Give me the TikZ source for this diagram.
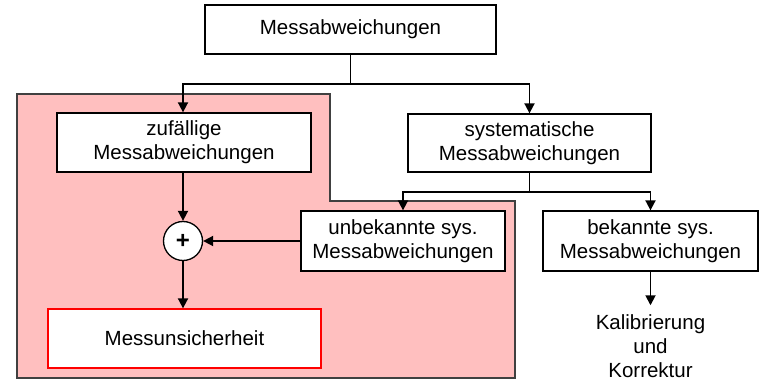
\documentclass[tikz,border=0pt]{standalone}
\usepackage{fontspec}
\setmainfont{Liberation Sans}
\usetikzlibrary{arrows.meta}
\definecolor{pinkfill}{HTML}{FFBFBF}
\definecolor{regionline}{HTML}{404040}
\begin{document}
\begin{tikzpicture}[x=1pt,y=-1pt,
  box/.style={draw=black,fill=white,line width=1.3pt,inner sep=0pt,align=center,
    font=\fontsize{20.5}{24}\selectfont},
  conn/.style={line width=1.8pt,-{Triangle[length=10pt,width=10pt]}},
  plain/.style={line width=1.8pt}]
\useasboundingbox (0,0) rectangle (764,382);
% pink region
\draw[fill=pinkfill,draw=regionline,line width=1.6pt]
  (17,94) -- (330,94) -- (330,201) -- (515,201) -- (515,378) -- (17,378) -- cycle;
% nodes
\node[box,minimum width=291pt,minimum height=49pt] (top) at (350.5,29.5) {Messabweichungen};
\node[box,minimum width=254pt,minimum height=59pt] (zuf) at (184,142.5) {zufällige\\Messabweichungen};
\node[box,minimum width=243pt,minimum height=58pt] (sys) at (529.5,143) {systematische\\Messabweichungen};
\node[box,minimum width=204pt,minimum height=60pt] (unb) at (403,241) {unbekannte sys.\\Messabweichungen};
\node[box,minimum width=215pt,minimum height=60pt] (bek) at (650.5,241) {bekannte sys.\\Messabweichungen};
\node[box,draw=red,minimum width=273pt,minimum height=59pt] (mess) at (184.5,338.5) {Messunsicherheit};
\node[draw=black,fill=white,line width=1.3pt,circle,minimum size=39pt,inner sep=0pt,
  font=\fontsize{24}{24}\selectfont\bfseries] (plus) at (183,241) {+};
\node[inner sep=0pt,align=center,font=\fontsize{20.5}{24}\selectfont] (kal) at (650.5,346) {Kalibrierung\\und\\Korrektur};
% junctions
\coordinate (j1) at (350.5,84);
\coordinate (j2) at (529.5,192);
% connectors
\draw[plain] (top.south) -- (j1);
\draw[conn] (j1) -| (zuf.north -| plus.north);
\draw[conn] (j1) -| (sys.north);
\draw[plain] (sys.south) -- (j2);
\draw[conn] (j2) -| (unb.north);
\draw[conn] (j2) -| (bek.north);
\draw[conn] (zuf.south -| plus.north) -- (plus.north);
\draw[conn] (plus.south) -- (mess.north -| plus.south);
\draw[conn] (unb.west) -- (plus.east);
\draw[conn] (bek.south) -- ([yshift=9pt]kal.north);
\end{tikzpicture}
\end{document}
